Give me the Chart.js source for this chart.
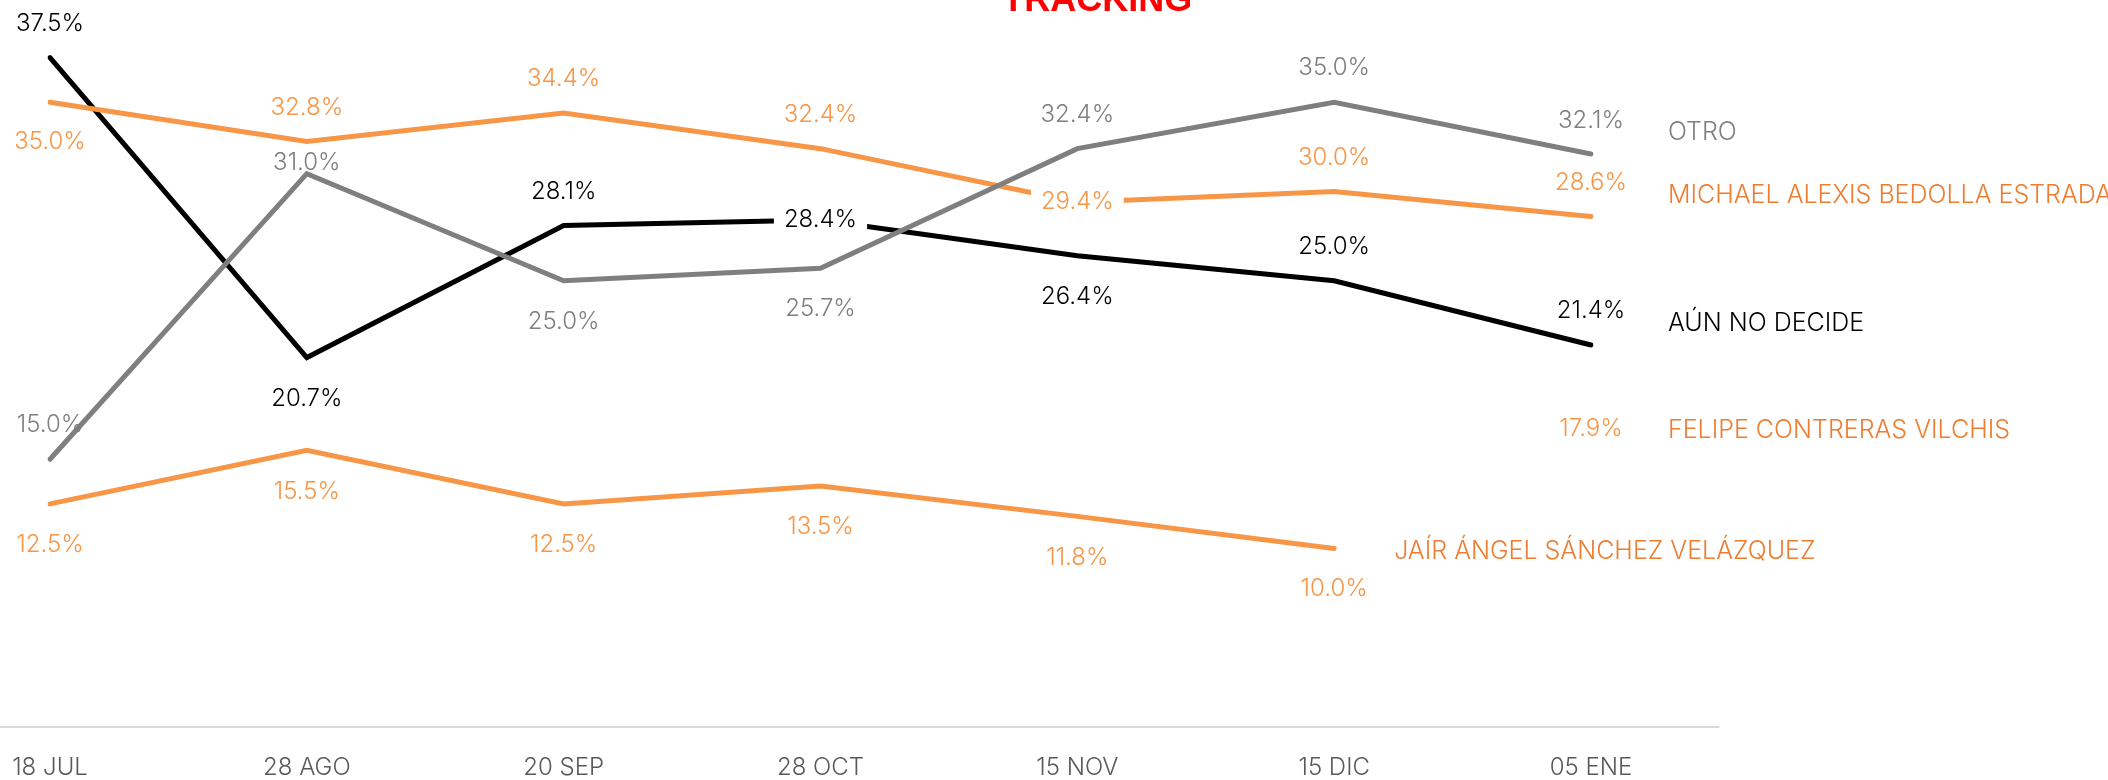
<!DOCTYPE html>
<html>
<head>
<meta charset="UTF-8">
<script src="https://cdn.jsdelivr.net/npm/chart.js@4.4.1/dist/chart.umd.min.js"></script>
<title>Tracking</title>
<style>
  html, body { margin: 0; padding: 0; background: #fff; }
  #wrap { width: 2108px; height: 780px; position: relative; }
</style>
</head>
<body>
<div id="wrap"><canvas id="myChart"></canvas></div>
<script>
// datos
const fechas   = ['18 JUL', '28 AGO', '20 SEP', '28 OCT', '15 NOV', '15 DIC', '05 ENE'];
const otro     = [15.0, 31.0, 25.0, 25.7, 32.4, 35.0, 32.1];
const michael  = [35.0, 32.8, 34.4, 32.4, 29.4, 30.0, 28.6];
const noDecide = [37.5, 20.7, 28.1, 28.4, 26.4, 25.0, 21.4];
const felipe   = [null, null, null, null, null, null, 17.9];
const jair     = [12.5, 15.5, 12.5, 13.5, 11.8, 10.0, null];

const NARANJA = '#F79646';
const NARANJA_TXT = '#ED7D31';
const GRIS = '#7F7F7F';
const NEGRO = '#000000';
const FUENTE = 'Inter';

// arriba / abajo de cada punto
const UP = -34, DN = 41;

const etiquetas = {
    id: 'etiquetas',
    beforeDatasetsDraw(chart) {
        // linea base del eje x
        const ctx = chart.ctx;
        const x = chart.scales.x;
        const half = (x.getPixelForTick(1) - x.getPixelForTick(0)) / 2;
        const y0 = chart.scales.y.getPixelForValue(0);
        ctx.save();
        ctx.strokeStyle = '#D9D9D9';
        ctx.lineWidth = 2;
        ctx.beginPath();
        ctx.moveTo(x.left - half, y0);
        ctx.lineTo(x.right + half, y0);
        ctx.stroke();
        ctx.restore();
    },
    afterDatasetsDraw(chart) {
        const ctx = chart.ctx;
        ctx.save();
        ctx.font = '300 24px ' + FUENTE;
        ctx.textBaseline = 'middle';
        chart.data.datasets.forEach((ds, i) => {
            const meta = chart.getDatasetMeta(i);
            let last = null;
            ctx.textAlign = 'center';
            meta.data.forEach((pt, j) => {
                const v = ds.data[j];
                if (v == null) return;
                last = pt;
                const txt = v.toFixed(1) + '%';
                const y = pt.y + ds.labelDy[j];
                if (ds.labelDy[j] === 0) {
                    const w = ctx.measureText(txt).width;
                    ctx.fillStyle = '#fff';
                    ctx.fillRect(pt.x - w / 2 - 10, y - 16, w + 20, 32);
                }
                ctx.fillStyle = ds.labelColor;
                ctx.fillText(txt, pt.x, y);
            });
            if (last) {
                ctx.textAlign = 'left';
                ctx.font = '300 25px ' + FUENTE;
                ctx.fillStyle = ds.nameColor;
                ctx.fillText(ds.label, last.x + ds.nameDx, last.y + ds.nameDy);
                ctx.font = '300 24px ' + FUENTE;
            }
        });
        ctx.restore();
    },
    afterDraw(chart) {
        const ctx = chart.ctx;
        ctx.save();
        ctx.font = 'bold 36px "Liberation Sans"';
        ctx.fillStyle = '#FF0000';
        ctx.textAlign = 'center';
        ctx.textBaseline = 'alphabetic';
        ctx.fillText('TRACKING', chart.width * 0.5205, 11);
        ctx.restore();
    }
};

const ctx = document.getElementById('myChart').getContext('2d');
const myChart = new Chart(ctx, {
    type: 'line',
    data: {
        labels: fechas,
        datasets: [
            {
                label: 'OTRO', data: otro, borderColor: GRIS, borderWidth: 5, order: 1,
                labelColor: GRIS, nameColor: GRIS, nameDx: 77, nameDy: -22,
                labelDy: [UP, -11, DN, DN, UP, UP, -33]
            },
            {
                label: 'MICHAEL ALEXIS BEDOLLA ESTRADA', data: michael, borderColor: NARANJA, borderWidth: 5, order: 2,
                labelColor: NARANJA, nameColor: NARANJA_TXT, nameDx: 77, nameDy: -21,
                labelDy: [40, UP, UP, UP, 0, UP, UP]
            },
            {
                label: 'AÚN NO DECIDE', data: noDecide, borderColor: NEGRO, borderWidth: 5, order: 3,
                labelColor: NEGRO, nameColor: NEGRO, nameDx: 77, nameDy: -22,
                labelDy: [UP, DN, UP, 0, DN, UP, UP]
            },
            {
                label: 'FELIPE CONTRERAS VILCHIS', data: felipe, borderColor: NARANJA, borderWidth: 5, order: 4,
                showLine: false,
                labelColor: NARANJA, nameColor: NARANJA_TXT, nameDx: 77, nameDy: 23,
                labelDy: [0, 0, 0, 0, 0, 0, 21]
            },
            {
                label: 'JAÍR ÁNGEL SÁNCHEZ VELÁZQUEZ', data: jair, borderColor: NARANJA, borderWidth: 5, order: 5,
                labelColor: NARANJA, nameColor: NARANJA_TXT, nameDx: 60, nameDy: 3,
                labelDy: [DN, DN, DN, DN, DN, 40, 0]
            }
        ]
    },
    options: {
        responsive: true,
        maintainAspectRatio: false,
        animation: false,
        layout: { padding: { left: 50, right: 517, top: 13, bottom: 0 } },
        elements: {
            point: { radius: 0, hoverRadius: 0 },
            line: { tension: 0, borderCapStyle: 'round', borderJoinStyle: 'miter', fill: false }
        },
        plugins: {
            legend: { display: false },
            tooltip: { enabled: false },
            title: { display: false }
        },
        scales: {
            y: { display: false, min: 0, max: 40 },
            x: {
                offset: false,
                grid: { display: false, drawTicks: false },
                border: { display: false },
                afterFit(scale) {
                    scale.height = 53;
                    scale.paddingLeft = 0;
                    scale.paddingRight = 0;
                },
                ticks: {
                    color: '#595959',
                    padding: 28,
                    maxRotation: 0,
                    autoSkip: false,
                    font: { family: FUENTE, size: 24, weight: 300, lineHeight: 1.1 }
                }
            }
        }
    },
    plugins: [etiquetas]
});
</script>
</body>
</html>
